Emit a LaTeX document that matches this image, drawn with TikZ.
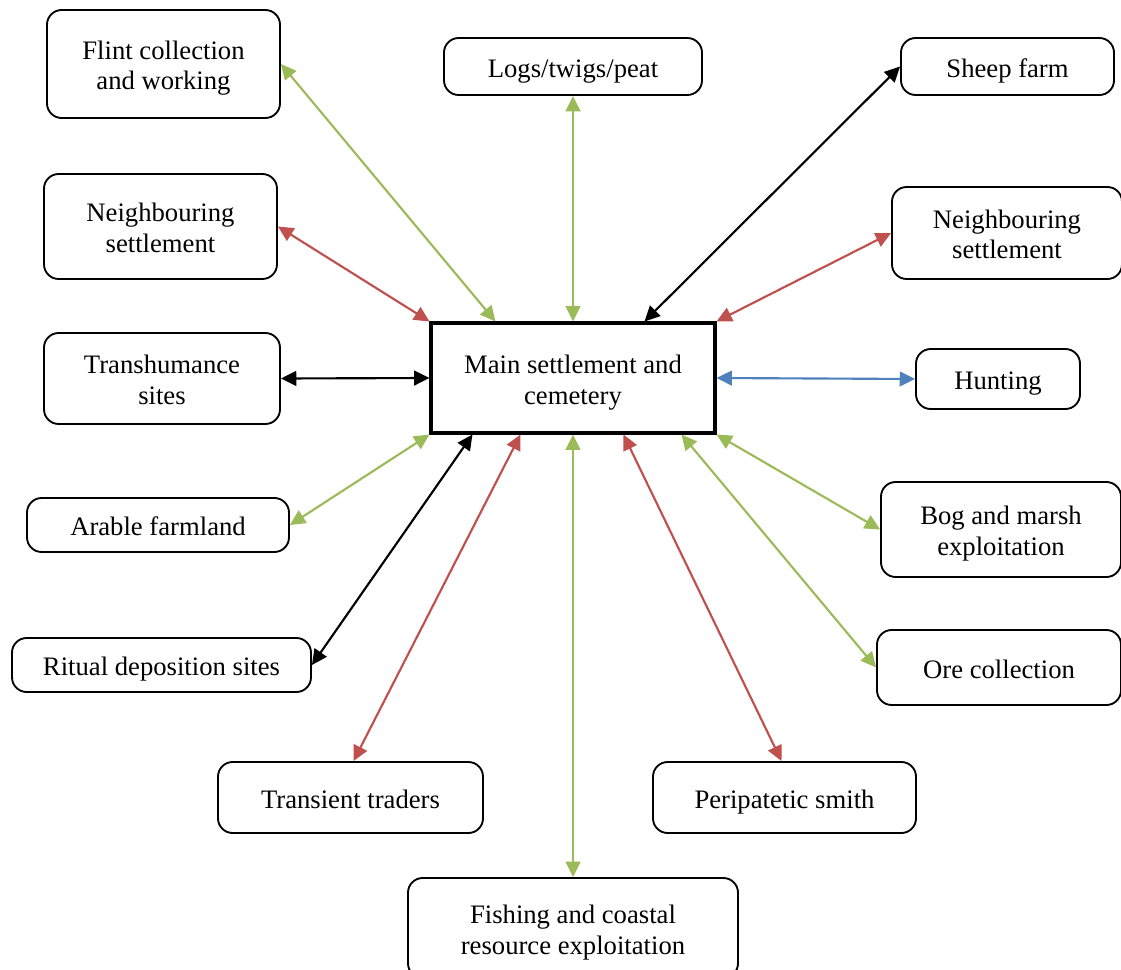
\documentclass[tikz,border=0pt]{standalone}
\usepackage{fontspec}
\setmainfont{Liberation Serif}
\usetikzlibrary{arrows.meta,calc}
\definecolor{cgreen}{HTML}{9BBB59}
\definecolor{cred}{HTML}{C0504D}
\definecolor{cblue}{HTML}{4F81BD}
\newcommand\boxtxt[1]{\raisebox{-3.4pt}[\height][\depth]{\begin{tabular}{@{}c@{}}#1\end{tabular}}}
\begin{document}
\begin{tikzpicture}[x=0.75pt,y=-0.75pt,
  box/.style={draw=black,line width=1.4pt,rounded corners=11pt,fill=white,inner sep=0pt,
    font=\fontsize{20}{23}\selectfont},
  mainbox/.style={draw=black,line width=2.3pt,fill=white,inner sep=0pt,
    font=\fontsize{20}{23}\selectfont},
  link/.style={line width=1.6pt,{Triangle[length=11.5pt,width=11pt]}-{Triangle[length=11.5pt,width=11pt]}},
  lgreen/.style={link,draw=cgreen,fill=cgreen},
  lred/.style={link,draw=cred,fill=cred},
  lblue/.style={link,draw=cblue,fill=cblue},
  lblack/.style={link,draw=black,fill=black}]
\useasboundingbox (0,0) rectangle (1121,970);
\fill[white] (0,0) rectangle (1121,970);
\node[mainbox,minimum width=213pt,minimum height=82.5pt] (main) at (573,378) {\boxtxt{Main settlement and\\cemetery}};
\node[box,minimum width=174.75pt,minimum height=81pt] (flint) at (163.5,64) {\boxtxt{Flint collection\\and working}};
\node[box,minimum width=193.5pt,minimum height=42.75pt] (logs) at (573,66.5) {\boxtxt{Logs/twigs/peat}};
\node[box,minimum width=159.75pt,minimum height=42.75pt] (sheep) at (1007.5,66.5) {\boxtxt{Sheep farm}};
\node[box,minimum width=174.75pt,minimum height=78.75pt] (nbl) at (160.5,226.5) {\boxtxt{Neighbouring\\settlement}};
\node[box,minimum width=172.5pt,minimum height=69pt] (nbr) at (1007,233) {\boxtxt{Neighbouring\\settlement}};
\node[box,minimum width=177pt,minimum height=68.25pt] (trans) at (162,378.5) {\boxtxt{Transhumance\\sites}};
\node[box,minimum width=123pt,minimum height=45pt] (hunt) at (998,379) {\boxtxt{Hunting}};
\node[box,minimum width=196.5pt,minimum height=40.5pt] (arable) at (158,525) {\boxtxt{Arable farmland}};
\node[box,minimum width=180pt,minimum height=71.25pt] (bog) at (1001,529.5) {\boxtxt{Bog and marsh\\exploitation}};
\node[box,minimum width=224.25pt,minimum height=40.5pt] (ritual) at (161.5,665) {\boxtxt{Ritual deposition sites}};
\node[box,minimum width=183pt,minimum height=56.25pt] (ore) at (999,667.5) {\boxtxt{Ore collection}};
\node[box,minimum width=198.75pt,minimum height=53.25pt] (traders) at (350.5,797.5) {\boxtxt{Transient traders}};
\node[box,minimum width=197.25pt,minimum height=53.25pt] (smith) at (784.5,797.5) {\boxtxt{Peripatetic smith}};
\node[box,minimum width=247.5pt,minimum height=75pt] (fish) at (573,928) {\boxtxt{Fishing and coastal\\resource exploitation}};
\draw[lgreen] (flint.east) -- ($(main.north west)+(66,0)$);
\draw[lgreen] (logs.south) -- (main.north);
\draw[lblack] (sheep.west) -- ($(main.north west)+(215,0)$);
\draw[lred] (nbl.east) -- (main.north west);
\draw[lred] (nbr.west) -- (main.north east);
\draw[lblack] (trans.east) -- (main.west);
\draw[lblue] (main.east) -- (hunt.west);
\draw[lgreen] (arable.east) -- (main.south west);
\draw[lgreen] (bog.west) -- (main.south east);
\draw[lblack] (ritual.east) -- ($(main.south west)+(43,0)$);
\draw[lgreen] (ore.west) -- ($(main.south west)+(252,0)$);
\draw[lred] ($(traders.north)+(3,0)$) -- ($(main.south west)+(91,0)$);
\draw[lred] ($(smith.north)+(-3,0)$) -- ($(main.south west)+(194,0)$);
\draw[lgreen] (fish.north) -- (main.south);
\end{tikzpicture}
\end{document}
